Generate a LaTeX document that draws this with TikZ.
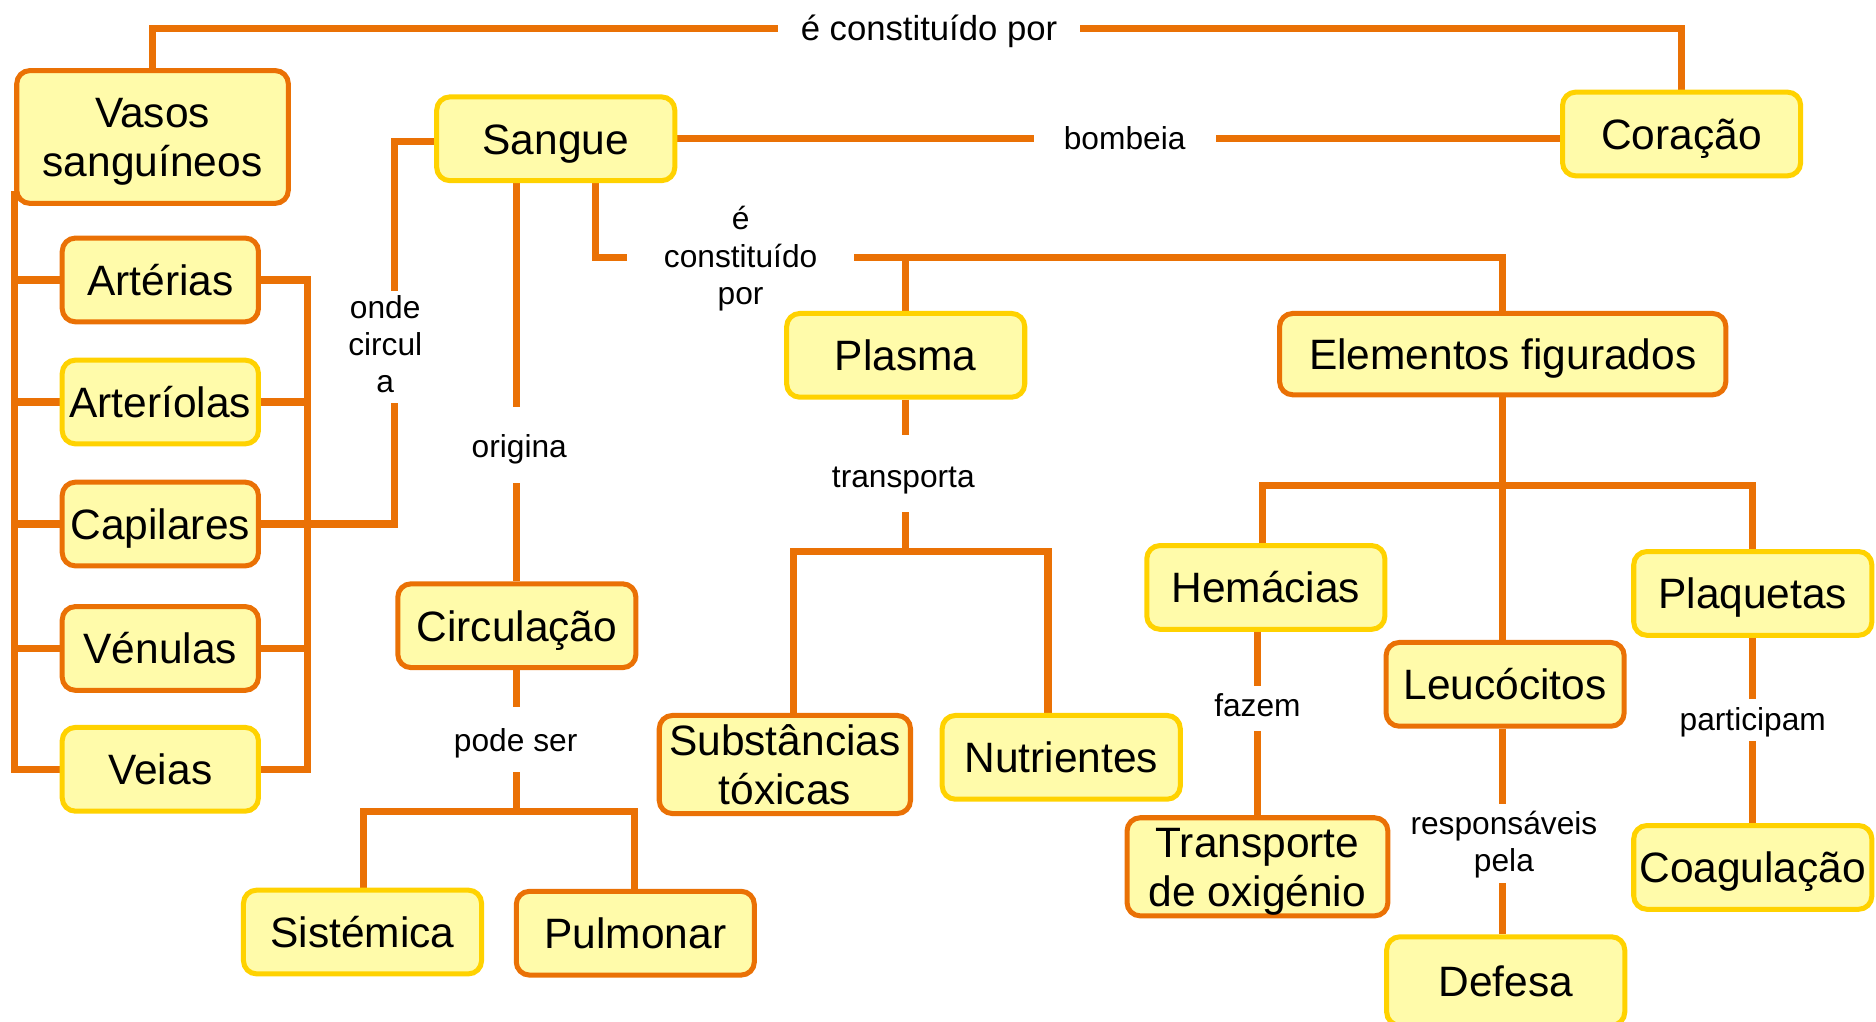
\documentclass[tikz,border=0pt]{standalone}
\usepackage{fontspec}
\setmainfont{Liberation Sans}
\usetikzlibrary{backgrounds,calc}
\definecolor{lineor}{RGB}{234,113,5}
\definecolor{boxyel}{RGB}{255,210,0}
\definecolor{boxfill}{RGB}{255,251,170}
\newcommand{\lowtxt}[2][2.3pt]{\raisebox{-#1}[\height][\depth]{\begin{tabular}{@{}c@{}}#2\end{tabular}}}
\tikzset{
  box/.style={rectangle, rounded corners=5.5pt, fill=boxfill, line width=2.1pt, align=center,
    inner sep=0pt, font=\fontsize{17.75}{20.5}\selectfont, minimum width=99.5pt, minimum height=35pt},
  ob/.style={box, draw=lineor},
  yb/.style={box, draw=boxyel},
  vb/.style={minimum width=82pt},
  lab/.style={fill=white, inner sep=0pt, align=center, font=\fontsize{13.25}{15.5}\selectfont},
  conn/.style={draw=lineor, line width=3pt, line join=miter}
}
\begin{document}
\begin{tikzpicture}[x=0.5pt,y=-0.5pt]
\useasboundingbox (0,0) rectangle (1568,854);
% labels (drawn first so that boxes lie above their white fill)
\node[lab, font=\fontsize{14.5}{17}\selectfont, minimum width=126.5pt, minimum height=16pt] (toplab) at (776.5,24) {\lowtxt[1.5pt]{é constituído por}};
\node[lab, minimum width=76pt, minimum height=14pt] (bombeia) at (940,117) {\lowtxt[1pt]{bombeia}};
\node[lab, minimum width=34pt, minimum height=32pt] (onde) at (322,290) {\lowtxt[0.5pt]{onde\\circul\\a}};
\node[lab, minimum height=32pt, minimum width=44pt] (origina) at (434,372) {\lowtxt[2pt]{origina}};
\node[lab, minimum width=95pt] (ecp) at (619,215) {\lowtxt[1pt]{é\\constituído\\por}};
\node[lab, minimum height=32pt, minimum width=64pt] (transporta) at (755,396) {\lowtxt[2.5pt]{transporta}};
\node[lab, minimum height=27pt, minimum width=56pt] (podeser) at (431,618) {\lowtxt[2pt]{pode ser}};
\node[lab, minimum height=19pt, minimum width=40pt] (fazem) at (1051,592) {\lowtxt[0.5pt]{fazem}};
\node[lab, minimum height=33pt, minimum width=84pt] (resp) at (1257,705) {\lowtxt[1pt]{responsáveis\\pela}};
\node[lab, minimum height=17.5pt, minimum width=64pt] (participam) at (1465,602) {\lowtxt[1pt]{participam}};
% boxes
\node[ob, minimum width=113.5pt, minimum height=55.5pt] (vasos) at (127.5,114.5) {\lowtxt{Vasos\\sanguíneos}};
\node[yb] (sangue) at (464.5,116) {\lowtxt{Sangue}};
\node[yb] (coracao) at (1405.5,112) {\lowtxt{Coração}};
\node[ob,vb] (arterias) at (134,234) {\lowtxt{Artérias}};
\node[yb,vb] (arteriolas) at (134,336) {\lowtxt{Arteríolas}};
\node[ob,vb] (capilares) at (134,438) {\lowtxt{Capilares}};
\node[ob,vb] (venulas) at (134,542) {\lowtxt{Vénulas}};
\node[yb,vb] (veias) at (134,643) {\lowtxt{Veias}};
\node[yb] (plasma) at (757,297) {\lowtxt{Plasma}};
\node[ob, minimum width=186.5pt, minimum height=34pt] (elementos) at (1256,296) {\lowtxt{Elementos figurados}};
\node[ob] (circulacao) at (432,523) {\lowtxt{Circulação}};
\node[yb] (sistemica) at (303,779) {\lowtxt{Sistémica}};
\node[ob] (pulmonar) at (531,780) {\lowtxt{Pulmonar}};
\node[ob, minimum width=105pt, minimum height=41pt] (substancias) at (656,639) {\lowtxt{Substâncias\\tóxicas}};
\node[yb] (nutrientes) at (887,633) {\lowtxt{Nutrientes}};
\node[yb] (hemacias) at (1058,491) {\lowtxt{Hemácias}};
\node[ob] (leucocitos) at (1258,572) {\lowtxt{Leucócitos}};
\node[yb] (plaquetas) at (1465,496) {\lowtxt{Plaquetas}};
\node[ob, minimum width=109pt, minimum height=40.5pt] (transporte) at (1051,724.5) {\lowtxt{Transporte\\de oxigénio}};
\node[yb, minimum height=37pt] (defesa) at (1258.5,820) {\lowtxt{Defesa}};
\node[yb] (coagulacao) at (1465,725) {\lowtxt{Coagulação}};
% free ends
\coordinate (ondeT) at (330,258);
\coordinate (ondeB) at (330,322);
\coordinate (ltop) at (12,160);
\coordinate (rt) at (257,237);
\coordinate (tl) at (663,461);
\coordinate (tr) at (876,461);
\coordinate (cl) at (304,678);
\coordinate (cr) at (530,678);
\coordinate (ebar) at (1256,406);
\coordinate (sang2) at (498,153);
\begin{scope}[on background layer]
  % top
  \draw[conn] (vasos.north) |- (toplab.center) -| (coracao.north);
  % bombeia
  \draw[conn] (sangue.east) -- (sangue.east -| coracao.west);
  % onde circula
  \draw[conn] ([yshift=-1pt]sangue.west) -| (ondeT);
  \draw[conn] (ondeB) |- (capilares.east);
  % vessels left trunk
  \draw[conn] (ltop) |- (veias.west);
  \foreach \n in {arterias,arteriolas,capilares,venulas}
    \draw[conn] (\n.west) -- (\n.west -| ltop);
  % vessels right trunk
  \draw[conn] (arterias.east) -| (veias.east -| rt) -- (veias.east);
  \foreach \n in {arteriolas,capilares,venulas}
    \draw[conn] (\n.east) -- (\n.east -| rt);
  % origina
  \draw[conn] (circulacao.north |- sangue.south) -- (circulacao.north);
  % e constituido por
  \draw[conn] (sang2) |- (ecp.center) -| (elementos.north);
  \draw[conn] (plasma.north) -- (plasma.north |- ecp.center);
  % transporta
  \draw[conn] (plasma.south) -- (plasma.south |- tl);
  \draw[conn] (tl |- substancias.north) -- (tl) -- (tr) -- (tr |- nutrientes.north);
  % pode ser
  \draw[conn] (circulacao.south) -- (circulacao.south |- cl);
  \draw[conn] (cl |- sistemica.north) -- (cl) -- (cr) -- (cr |- pulmonar.north);
  % elementos
  \draw[conn] (elementos.south) -- (elementos.south |- leucocitos.north);
  \draw[conn] (hemacias.north -| 1055,0) |- (ebar) -| (plaquetas.north);
  % fazem
  \draw[conn] (transporte.north |- hemacias.south) -- (transporte.north);
  % responsaveis pela
  \draw[conn] (leucocitos.south -| ebar) -- (ebar |- defesa.north);
  % participam
  \draw[conn] (plaquetas.south) -- (coagulacao.north);
\end{scope}
\end{tikzpicture}
\end{document}
